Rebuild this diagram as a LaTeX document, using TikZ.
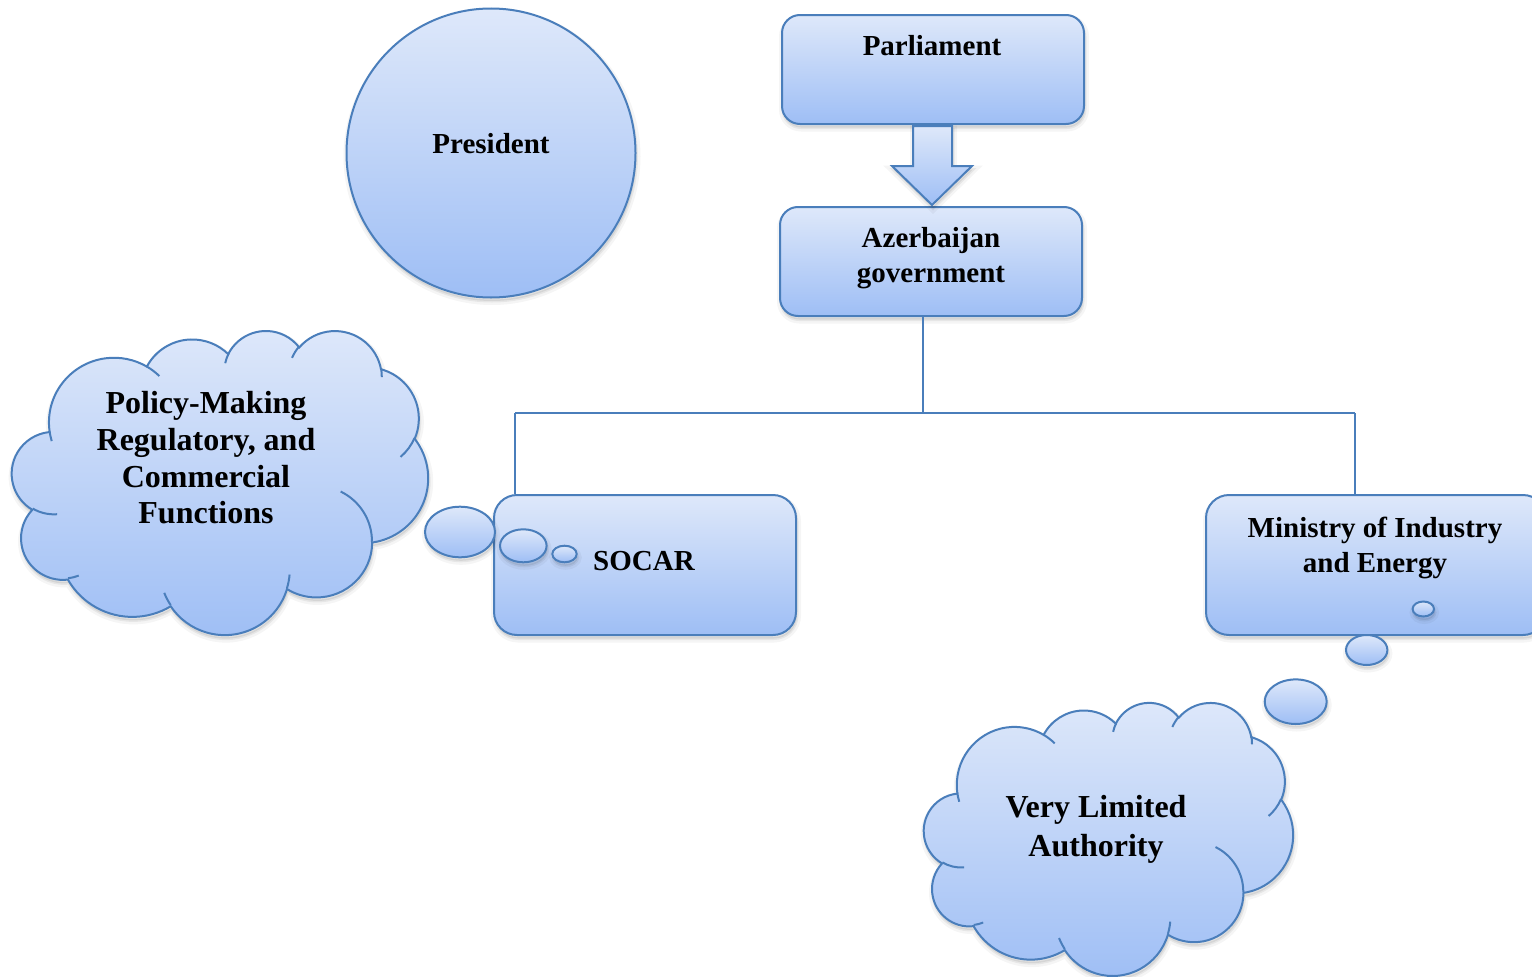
\documentclass[tikz,border=0pt]{standalone}
\usepackage{fontspec}
\setmainfont{Liberation Serif}
\usetikzlibrary{shadows}
\definecolor{topc}{HTML}{DEE8FA}
\definecolor{botc}{HTML}{9EBEF5}
\definecolor{edgec}{HTML}{4A7EBB}
% elliptical arc in DrawingML style (ray angles, y down), drawn in y-up coordinates
\newcommand\carc[4]{%
  \pgfextra{%
    \pgfmathsetmacro\cTa{atan2((#1)*sin(#3),(#2)*cos(#3))}%
    \pgfmathsetmacro\cTb{atan2((#1)*sin((#3)+(#4)),(#2)*cos((#3)+(#4)))}%
    \pgfmathsetmacro\cTd{mod(\cTb-(\cTa)+720,360)}%
    \pgfmathsetmacro\cTs{0-(\cTa)}%
    \pgfmathsetmacro\cTn{0-(\cTd)}%
    \global\let\cS\cTs
    \global\let\cN\cTn
  }%
  arc[x radius=#1, y radius=#2, start angle=\cS, delta angle=\cN]%
}
\newcommand\cloudouter{(39.00,-143.70)
  \carc{67.53}{91.90}{-190.4875}{123.7805}
  \carc{53.33}{72.67}{-144.1024}{89.9452}
  \carc{43.65}{59.45}{-145.8079}{99.7230}
  \carc{48.57}{65.95}{-130.9861}{117.2417}
  \carc{53.33}{72.73}{-78.7089}{109.0269}
  \carc{67.75}{92.20}{-46.2673}{130.2690}
  \carc{57.85}{78.67}{0.6250}{114.0333}
  \carc{67.52}{92.15}{22.4516}{115.1726}
  \carc{77.20}{105.43}{66.2426}{75.7110}
  \carc{43.60}{59.18}{-274.9421}{146.7356}
  \carc{43.45}{59.45}{-246.8285}{152.5189}
  -- cycle}
\newcommand\cloudinner{%
  (46.93,-261.77) \carc{43.45}{59.45}{86.7420}{26.4295}
  (69.28,-348.99) \carc{43.60}{59.18}{73.6105}{11.4475}
  (164.78,-390.90) \carc{67.52}{92.15}{137.6242}{14.0811}
  (288.27,-347.51) \carc{67.52}{92.15}{6.4533}{15.9984}
  (341.29,-229.54) \carc{57.85}{78.67}{-70.2924}{70.9174}
  (417.98,-153.54) \carc{53.33}{72.73}{30.3180}{27.7515}
  (383.24,-54.26) \carc{48.57}{65.95}{-13.7443}{14.8589}
  (290.78,-39.52) \carc{48.57}{65.95}{-149.1815}{18.1954}
  (221.41,-47.20) \carc{43.65}{59.45}{-163.4943}{17.6864}
  (140.00,-51.92) \carc{67.53}{91.90}{-66.7070}{12.3194}
  (41.27,-157.89) \carc{67.53}{91.90}{157.6544}{11.8582}}
\begin{document}
\begin{tikzpicture}[x=1pt,y=1pt,
  softshadow/.style={
    general shadow={shadow xshift=1pt, shadow yshift=-3.5pt, fill=black, fill opacity=0.07,
      draw=black, draw opacity=0.04, line width=8pt},
    general shadow={shadow xshift=1pt, shadow yshift=-3.5pt,
      draw=black, draw opacity=0.06, line width=3pt}},
  shp/.style={softshadow, draw=edgec, line width=2pt, top color=topc, bottom color=botc},
  conn/.style={draw=edgec, line width=2pt},
  boxsty/.style={shp, rounded corners=#1, inner sep=0pt, anchor=north west},
  txt/.style={font=\bfseries\fontsize{29}{35}\selectfont, align=center, inner sep=0pt},
  ctxt/.style={font=\bfseries\fontsize{32}{#1}\selectfont, align=center, inner sep=0pt}]
\useasboundingbox (0,0) rectangle (1532,-977);
\fill[white] (0,0) rectangle (1532,-977);
\clip (0,0) rectangle (1532,-977);

% President
\node[shp, circle, minimum size=289pt, inner sep=0pt] (pres) at (491,-153) {};
\node[txt] (prestxt) at (491,-144) {President};

% boxes
\node[boxsty=18pt, minimum width=302pt, minimum height=109pt] (parl) at (781,-14) {};
\node[txt] (parltxt) at (932,-46) {Parliament};
\node[boxsty=18pt, minimum width=302pt, minimum height=109pt] (gov) at (779,-206) {};
\node[txt] (govtxt) at (931,-258) {Azerbaijan\\government};

% connectors
\coordinate (bus) at (923,-413);
\coordinate (sl) at (515,-413);
\coordinate (ml) at (1355,-413);
\draw[conn] (gov.south -| bus) -- (bus);
\draw[conn] (sl) -- (ml);
\node[boxsty=23pt, minimum width=302pt, minimum height=140pt] (socar) at (493,-494) {};
\node[boxsty=23pt, minimum width=340pt, minimum height=140pt] (mine) at (1205,-494) {};
\draw[conn] (sl) -- (sl |- socar.north);
\draw[conn] (ml) -- (ml |- mine.north);
\node[txt] (socartxt) at (644,-561) {SOCAR};
\node[txt] (minetxt) at (1375,-548) {Ministry of Industry\\and Energy};

% block arrow
\path[shp] (913,-126) -- (952,-126) -- (952,-166) -- (972,-166) -- (932,-205)
  -- (892,-166) -- (913,-166) -- cycle;

% cloud 1
\begin{scope}[shift={(12,-330)}, xscale=0.962963, yscale=0.703704]
  \path[shp] \cloudouter;
  \draw[conn] \cloudinner;
\end{scope}
\node[ctxt=36.7] (c1txt) at (206,-458) {Policy-Making\\Regulatory, and\\Commercial\\Functions};
\path[shp] (460,-532) ellipse[x radius=35, y radius=25.3];
\path[shp] (523.3,-545.8) ellipse[x radius=23.3, y radius=16.5];
\path[shp] (564.5,-554) ellipse[x radius=12.2, y radius=8.3];

% cloud 2
\begin{scope}[shift={(924,-702)}, xscale=0.854167, yscale=0.631944]
  \path[shp] \cloudouter;
  \draw[conn] \cloudinner;
\end{scope}
\node[ctxt=39] (c2txt) at (1096,-829) {Very Limited\\Authority};
\path[shp] (1423.3,-609) ellipse[x radius=10.7, y radius=7.5];
\path[shp] (1366.7,-650) ellipse[x radius=20.7, y radius=15];
\path[shp] (1295.7,-701.7) ellipse[x radius=31, y radius=22.3];
\end{tikzpicture}
\end{document}
